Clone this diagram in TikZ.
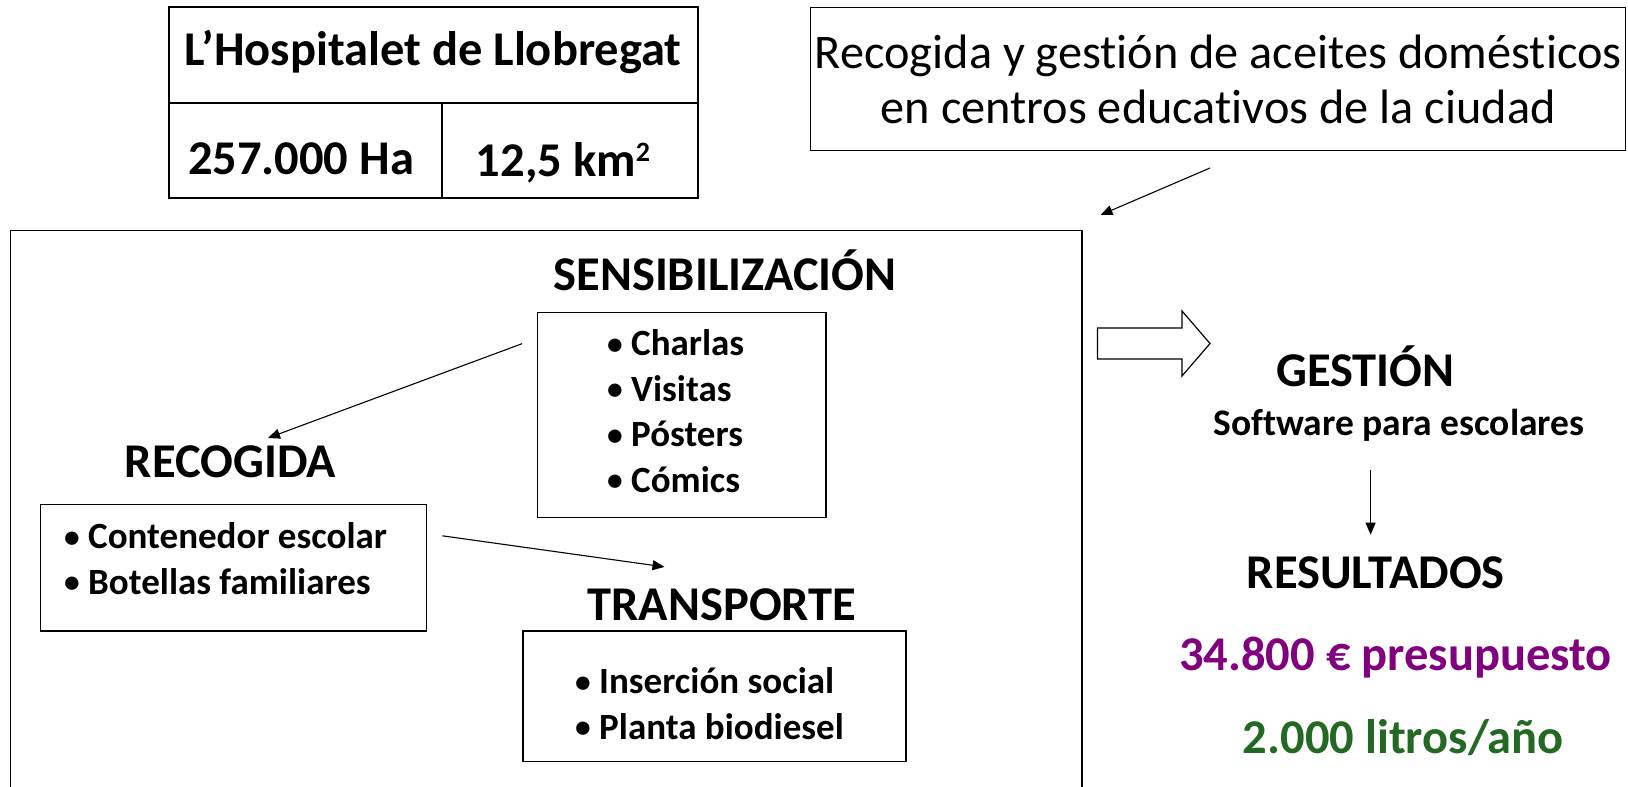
\documentclass[tikz,border=0pt]{standalone}
\usepackage{fontspec}
\usepackage{graphicx}
\setmainfont{Carlito}[RawFeature={-liga}]
\usetikzlibrary{arrows.meta,shapes.arrows}
\definecolor{respurple}{RGB}{128,0,128}
\definecolor{resgreen}{RGB}{35,105,35}
\newcommand\mybul{\raisebox{0.04em}{\scalebox{0.85}{\textbullet}}\ }
\newcommand\mysqr{\raisebox{15pt}{\fontsize{28}{28}\selectfont 2}}
\tikzset{
  box/.style={draw, line width=1.4pt},
  conn/.style={-{Triangle[length=12pt,width=10pt]}, line width=1.1pt},
  heading/.style={font=\fontsize{48.5}{56}\selectfont\bfseries, inner sep=0pt},
  item/.style={font=\fontsize{37}{45.5}\selectfont\bfseries, inner sep=0pt, align=left},
}
\begin{document}
\begin{tikzpicture}[x=1pt,y=-1pt]
\useasboundingbox (0,0) rectangle (1628,787);
% table
\draw[box] (169,7) rectangle (698,198);
\draw[box] (169,103) -- (698,103);
\draw[box] (442,103) -- (442,198);
\node[heading] (city) at (433,52) {L’Hospitalet de Llobregat};
\node[heading] (ha) at (301,159) {257.000 Ha};
\node[heading, anchor=base] (km) at (563,176) {12,5 km\mysqr};
% title box
\node[box, minimum width=815pt, minimum height=143pt, inner sep=0pt, align=center,
  font=\fontsize{48.3}{55}\selectfont, anchor=north west] (title) at (810,7)
  {Recogida y gestión de aceites domésticos\\en centros educativos de la ciudad};
\coordinate (tstart) at (1210,168);
\coordinate (tend) at (1100.5,215);
\draw[conn] (tstart) -- (tend);
% big box
\draw[box] (10.4,800) -- (10.4,230.5) -- (1082,230.5) -- (1082,800);
\node[heading] (sens) at (725,270) {SENSIBILIZACIÓN};
\node[box, minimum width=288.6pt, minimum height=205.5pt, anchor=north west] (sbox) at (536.8,311.5) {};
\node[item, anchor=west] (sitems) at (607,411) {\mybul Charlas\\\mybul Visitas\\\mybul Pósters\\\mybul Cómics};
\coordinate (s1) at (522,343.7);
\node[heading] (rec) at (230.5,462) {RECOGIDA};
\node[box, minimum width=386.2pt, minimum height=126.6pt, anchor=north west] (rbox) at (39.5,503.6) {};
\node[item, anchor=west] (ritems) at (64,558.5) {\mybul Contenedor escolar\\\mybul Botellas familiares};
\coordinate (r1) at (442.3,535.8);
\node[heading] (trans) at (722,605) {TRANSPORTE};
\node[box, minimum width=383.1pt, minimum height=130.8pt, anchor=north west] (tbox) at (522.3,630.2) {};
\node[item, anchor=west] (titems) at (575,703.5) {\mybul Inserción social\\\mybul Planta biodiesel};
\coordinate (s2) at (268,438);
\coordinate (t2) at (664.5,566.9);
\draw[conn] (s1) -- (s2);
\draw[conn] (r1) -- (t2);
% block arrow
\draw[line width=1.2pt] (1097.5,328) -- (1182,328) -- (1182,311) -- (1210,343.5) -- (1182,376) -- (1182,359) -- (1097.5,359) -- cycle;
% right column
\node[heading] (ges) at (1365.4,366.5) {GESTIÓN};
\node[font=\fontsize{37.5}{44}\selectfont\bfseries, inner sep=0pt] (soft) at (1399,425.7) {Software para escolares};
\coordinate (g1) at (1370.6,470.3);
\coordinate (g2) at (1370.6,534.7);
\draw[conn] (g1) -- (g2);
\node[heading] (res) at (1375.7,573) {RESULTADOS};
\node[heading, text=respurple] (pres) at (1395.5,657.2) {34.800 € presupuesto};
\node[heading, text=resgreen] (lit) at (1403.3,737.2) {2.000 litros/año};
\end{tikzpicture}
\end{document}
